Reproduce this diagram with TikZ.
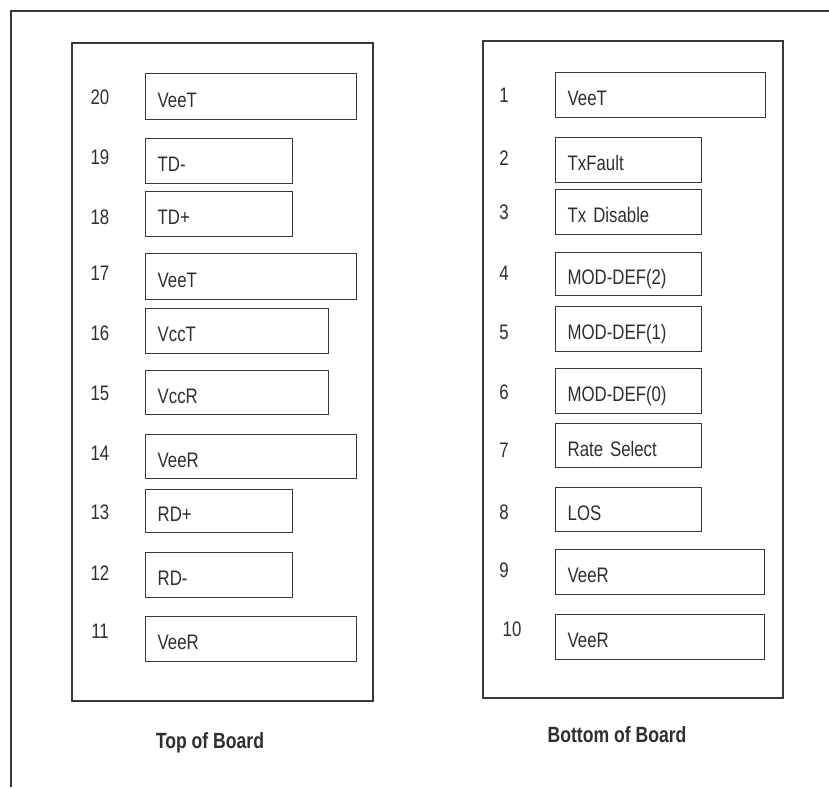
\documentclass[tikz,border=0pt]{standalone}
\usepackage{fontspec}
\setmainfont{Liberation Sans}
\newfontfamily\narrowsans[FakeStretch=0.8]{Liberation Sans}
\colorlet{inkc}{black!82}
\colorlet{linec}{black!78}
\tikzset{
  board/.style={draw=linec, line width=1.4pt},
  pinbox/.style={draw=linec, line width=1.3pt, anchor=north west, inner xsep=12pt, inner ysep=0pt,
    align=left, text height=21pt, text depth=0pt, font=\narrowsans\fontsize{21}{21}\selectfont, text=inkc},
  pinnum/.style={font=\narrowsans\fontsize{21}{21}\selectfont, text=inkc, inner sep=0pt},
  caption/.style={font=\narrowsans\bfseries\fontsize{22}{22}\selectfont, text=inkc, inner sep=0pt}
}
\begin{document}
\begin{tikzpicture}[x=1pt, y=-1pt]
\useasboundingbox (0,0) rectangle (829,787);
% outer frame (cropped)
\draw[board] (11,787) -- (11,11) -- (829,11);
% boards
\draw[board] (72,43) rectangle (373,701);
\draw[board] (483,41) rectangle (783,698);
% left board pins
\foreach \n/\ny/\yt/\w/\h/\t in {
  20/97/73/211/46/VeeT,
  19/157/138/147/45/TD-,
  18/217/191/147/45/TD+,
  17/273/253/211/46/VeeT,
  16/333/308/183/45/VccT,
  15/393/370/183/44/VccR,
  14/453/434/211/44/VeeR,
  13/512/489/147/43/RD+,
  12/573/552/147/45/RD-,
  11/631/616/211/45/VeeR}{
  \node[pinbox, text width={\w pt-24pt}, minimum height=\h pt] (L\n) at (145,\yt) {\t};
  \node[pinnum] (nL\n) at (100,\ny) {\n};
}
% right board pins
\foreach \n/\ny/\yt/\w/\h/\t in {
  1/95/72/210/45/VeeT,
  2/158/137/146/45/TxFault,
  3/212/189/146/45/Tx Disable,
  4/273/252/146/43/MOD-DEF(2),
  5/332/306/146/45/MOD-DEF(1),
  6/392/368/146/45/MOD-DEF(0),
  7/450/423/146/44/Rate Select,
  8/512/487/146/44/LOS,
  9/570/549/209/45/VeeR}{
  \node[pinbox, text width={\w pt-24pt}, minimum height=\h pt] (R\n) at (555,\yt) {\t};
  \node[pinnum] (nR\n) at (504,\ny) {\n};
}
\node[pinbox, text width={185pt}, minimum height=45pt] (R10) at (555,614) {VeeR};
\node[pinnum] (nR10) at (512,629) {10};
% captions
\node[caption] (top) at (210,743) {Top of Board};
\node[caption] (bottom) at (617,735) {Bottom of Board};
\end{tikzpicture}
\end{document}
